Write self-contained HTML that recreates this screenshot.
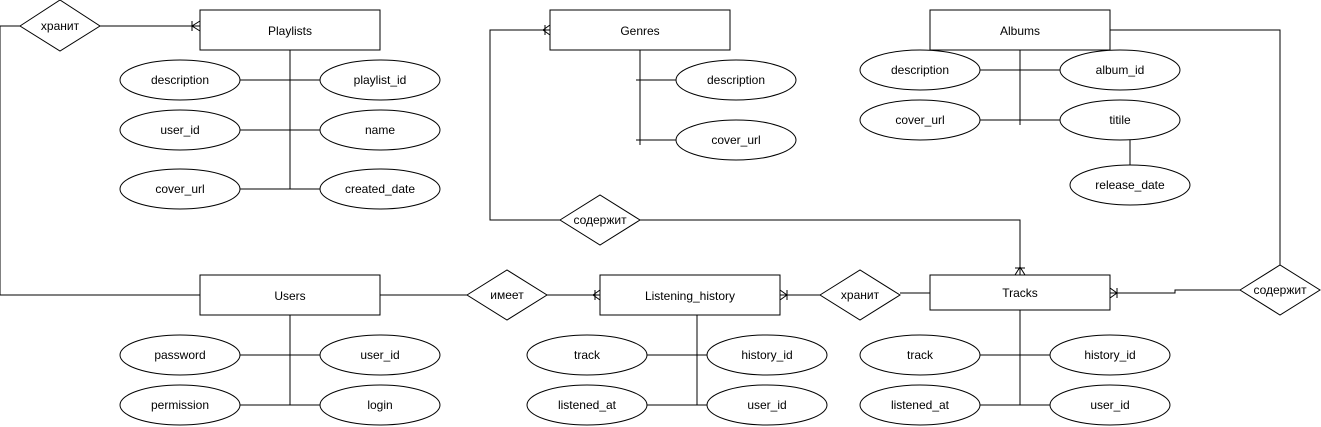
<!DOCTYPE html>
<html><head><meta charset="utf-8"><style>
html,body{margin:0;padding:0;background:#fff;}
svg{display:block;}
text{font-family:"Liberation Sans","Noto Sans CJK SC",sans-serif;font-size:12px;fill:#000;text-anchor:middle;dominant-baseline:central;}
</style></head><body>
<svg width="1321" height="427" viewBox="0 0 1321 427" xmlns="http://www.w3.org/2000/svg">
<g fill="none" stroke="#000" stroke-width="1">
<polyline points="200,295 0,295 0,26 20,26"/>
<line x1="100" y1="26" x2="200" y2="26"/>
<path d="M192,21 V31 M200,21 L192,26 L200,31"/>
<line x1="290" y1="50" x2="290" y2="189"/>
<line x1="240" y1="80" x2="320" y2="80"/>
<line x1="240" y1="130" x2="320" y2="130"/>
<line x1="240" y1="189" x2="320" y2="189"/>
<line x1="380" y1="295" x2="467" y2="295"/>
<line x1="547" y1="295" x2="600" y2="295"/>
<path d="M595,290 V300 M600,290 L593,295 L600,300"/>
<line x1="290" y1="315" x2="290" y2="405"/>
<line x1="240" y1="355" x2="320" y2="355"/>
<line x1="240" y1="405" x2="320" y2="405"/>
<polyline points="550,30 490,30 490,220 560,220"/>
<path d="M545,25 V35 M550,25 L543,30 L550,35"/>
<polyline points="640,220 1020,220 1020,275"/>
<path d="M1015,268 H1025 M1015,275 L1020,267 L1025,275"/>
<line x1="640" y1="50" x2="640" y2="145"/>
<line x1="636" y1="80" x2="676" y2="80"/>
<line x1="636" y1="140" x2="676" y2="140"/>
<polyline points="1110,30 1280,30 1280,265"/>
<polyline points="1240,290 1175,290 1175,293 1110,293"/>
<path d="M1117,288 V298 M1110,288 L1117,293 L1110,298"/>
<line x1="1020" y1="50" x2="1020" y2="125"/>
<line x1="980" y1="70" x2="1060" y2="70"/>
<line x1="980" y1="120" x2="1060" y2="120"/>
<line x1="1130" y1="140" x2="1130" y2="165"/>
<line x1="780" y1="295" x2="820" y2="295"/>
<path d="M787,290 V300 M780,290 L787,295 L780,300"/>
<line x1="900" y1="293" x2="930" y2="293"/>
<line x1="697" y1="315" x2="697" y2="405"/>
<line x1="647" y1="355" x2="727" y2="355"/>
<line x1="647" y1="405" x2="727" y2="405"/>
<line x1="1020" y1="310" x2="1020" y2="405"/>
<line x1="980" y1="355" x2="1050" y2="355"/>
<line x1="980" y1="405" x2="1050" y2="405"/>
</g>
<g fill="#fff" stroke="#000">
<rect x="200" y="10" width="180" height="40"/>
<rect x="550" y="10" width="180" height="40"/>
<rect x="930" y="10" width="180" height="40"/>
<rect x="200" y="275" width="180" height="40"/>
<rect x="600" y="275" width="180" height="40"/>
<rect x="930" y="275" width="180" height="35"/>
<polygon points="20,26 60,0 100,26 60,51"/>
<polygon points="560,220 600,195 640,220 600,245"/>
<polygon points="467,295 507,270 547,295 507,320"/>
<polygon points="820,295 860,270 900,295 860,320"/>
<polygon points="1240,290 1280,265 1320,290 1280,315"/>
<ellipse cx="180" cy="80" rx="60" ry="20"/>
<ellipse cx="380" cy="80" rx="60" ry="20"/>
<ellipse cx="180" cy="130" rx="60" ry="20"/>
<ellipse cx="380" cy="130" rx="60" ry="20"/>
<ellipse cx="180" cy="189" rx="60" ry="20"/>
<ellipse cx="380" cy="189" rx="60" ry="20"/>
<ellipse cx="736" cy="80" rx="60" ry="20"/>
<ellipse cx="736" cy="140" rx="60" ry="20"/>
<ellipse cx="920" cy="70" rx="60" ry="20"/>
<ellipse cx="1120" cy="70" rx="60" ry="20"/>
<ellipse cx="920" cy="120" rx="60" ry="20"/>
<ellipse cx="1120" cy="120" rx="60" ry="20"/>
<ellipse cx="1130" cy="185" rx="60" ry="20"/>
<ellipse cx="180" cy="355" rx="60" ry="20"/>
<ellipse cx="380" cy="355" rx="60" ry="20"/>
<ellipse cx="180" cy="405" rx="60" ry="20"/>
<ellipse cx="380" cy="405" rx="60" ry="20"/>
<ellipse cx="587" cy="355" rx="60" ry="20"/>
<ellipse cx="767" cy="355" rx="60" ry="20"/>
<ellipse cx="587" cy="405" rx="60" ry="20"/>
<ellipse cx="767" cy="405" rx="60" ry="20"/>
<ellipse cx="920" cy="355" rx="60" ry="20"/>
<ellipse cx="1110" cy="355" rx="60" ry="20"/>
<ellipse cx="920" cy="405" rx="60" ry="20"/>
<ellipse cx="1110" cy="405" rx="60" ry="20"/>
</g>
<text x="290" y="31">Playlists</text>
<text x="640" y="31">Genres</text>
<text x="1020" y="31">Albums</text>
<text x="290" y="296">Users</text>
<text x="690" y="296">Listening_history</text>
<text x="1020" y="293">Tracks</text>
<text x="60" y="26">хранит</text>
<text x="600" y="220">содержит</text>
<text x="507" y="295">имеет</text>
<text x="860" y="295">хранит</text>
<text x="1280" y="290">содержит</text>
<text x="180" y="80">description</text>
<text x="380" y="80">playlist_id</text>
<text x="180" y="130">user_id</text>
<text x="380" y="130">name</text>
<text x="180" y="189">cover_url</text>
<text x="380" y="189">created_date</text>
<text x="736" y="80">description</text>
<text x="736" y="140">cover_url</text>
<text x="920" y="70">description</text>
<text x="1120" y="70">album_id</text>
<text x="920" y="120">cover_url</text>
<text x="1120" y="120">titile</text>
<text x="1130" y="185">release_date</text>
<text x="180" y="355">password</text>
<text x="380" y="355">user_id</text>
<text x="180" y="405">permission</text>
<text x="380" y="405">login</text>
<text x="587" y="355">track</text>
<text x="767" y="355">history_id</text>
<text x="587" y="405">listened_at</text>
<text x="767" y="405">user_id</text>
<text x="920" y="355">track</text>
<text x="1110" y="355">history_id</text>
<text x="920" y="405">listened_at</text>
<text x="1110" y="405">user_id</text>
</svg>
</body></html>
